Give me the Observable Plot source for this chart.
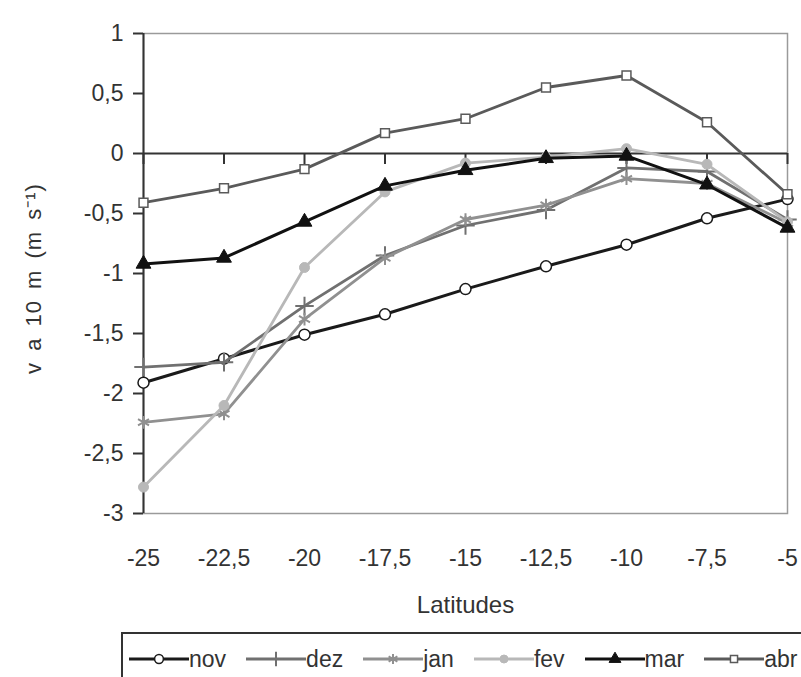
<!DOCTYPE html>
<html><head><meta charset="utf-8">
<script src="https://cdn.jsdelivr.net/npm/d3@7"></script>
<script src="https://cdn.jsdelivr.net/npm/@observablehq/plot@0.6"></script>
<style>
html,body{margin:0;padding:0;background:#fff;overflow:hidden;}
#chart svg{display:block;}
#legend{margin-left:121px;margin-top:1px;height:50px;border-top:2px solid #333;border-left:2px solid #333;border-bottom:2px solid #333;display:flex;align-items:center;padding-left:6px;gap:20px;font-family:"Liberation Sans",Arial,sans-serif;font-size:23px;color:#333;white-space:nowrap;}
.item{display:flex;align-items:center;}
.item svg{display:block;}
</style></head><body>
<div id="chart"></div><div id="legend"></div>
<script>
// ---- data ----
const latitudes = [-25, -22.5, -20, -17.5, -15, -12.5, -10, -7.5, -5];
const xTickLabels = ["-25", "-22,5", "-20", "-17,5", "-15", "-12,5", "-10", "-7,5", "-5"];
const yTicks = [-3, -2.5, -2, -1.5, -1, -0.5, 0, 0.5, 1];
const yTickLabels = ["-3", "-2,5", "-2", "-1,5", "-1", "-0,5", "0", "0,5", "1"];
const seriesNames = ["nov", "dez", "jan", "fev", "mar", "abr"];
const nov = [-1.91, -1.71, -1.51, -1.34, -1.13, -0.94, -0.76, -0.54, -0.38];
const dez = [-1.78, -1.74, -1.27, -0.85, -0.60, -0.47, -0.12, -0.15, -0.55];
const jan = [-2.24, -2.17, -1.38, -0.87, -0.55, -0.43, -0.21, -0.25, -0.58];
const fev = [-2.78, -2.10, -0.95, -0.32, -0.08, -0.03, 0.04, -0.09, -0.57];
const mar = [-0.92, -0.87, -0.57, -0.27, -0.14, -0.04, -0.02, -0.26, -0.62];
const abr = [-0.41, -0.29, -0.13, 0.17, 0.29, 0.55, 0.65, 0.26, -0.34];
const xLabel = "Latitudes";
const yLabel = "v a 10 m (m s\u207B\u00B9)";

// ---- styles ----
const seriesValues = {nov, dez, jan, fev, mar, abr};
const styles = {
  nov: {color: "#1a1a1a", symbol: "circle",   fill: "white",   width: 3,   r: 5.5, sw: 1.5},
  dez: {color: "#707070", symbol: "plus",     fill: "none",    width: 2.8, r: 6,   sw: 2},
  jan: {color: "#909090", symbol: "asterisk", fill: "none",    width: 2.8, r: 6,   sw: 2},
  fev: {color: "#b8b8b8", symbol: "circle",   fill: "#b8b8b8", width: 2.8, r: 5,   sw: 1},
  mar: {color: "#111111", symbol: "triangle", fill: "#111111", width: 3,   r: 5.5, sw: 1},
  abr: {color: "#5a5a5a", symbol: "square",   fill: "white",   width: 2.8, r: 5,   sw: 1.5}
};

const rows = seriesNames.flatMap(s => latitudes.map((lat, i) => ({serie: s, lat, v: seriesValues[s][i]})));

const fmtX = d => xTickLabels[latitudes.indexOf(d)];
const fmtY = d => yTickLabels[yTicks.indexOf(d)];

const marks = [
  Plot.frame({stroke: "#9a9a9a", strokeWidth: 1.5}),
  Plot.ruleY([0], {stroke: "#333", strokeWidth: 2}),
  Plot.ruleX(latitudes, {y1: 0, y2: 0, insetBottom: -11, stroke: "#333", strokeWidth: 2}),
  Plot.ruleX([latitudes[0]], {stroke: "#333", strokeWidth: 2}),
  Plot.axisY({ticks: yTicks, tickSize: 10, tickPadding: 10, tickFormat: fmtY, fontSize: 23, label: null, strokeWidth: 2}),
  Plot.axisX({ticks: latitudes, tickSize: 0, tickPadding: 36, tickFormat: fmtX, fontSize: 23, label: null}),
  Plot.text([xLabel], {text: d => d, frameAnchor: "bottom", dy: 92, fontSize: 24, textAnchor: "middle", lineAnchor: "middle"}),
  Plot.text([yLabel], {text: d => d, frameAnchor: "left", dx: -110, dy: 5, rotate: -90, fontSize: 22, textAnchor: "middle", lineAnchor: "middle"})
];
for (const s of seriesNames) {
  const st = styles[s];
  const d = rows.filter(r => r.serie === s);
  marks.push(Plot.line(d, {x: "lat", y: "v", stroke: st.color, strokeWidth: st.width}));
  marks.push(Plot.dot(d, {x: "lat", y: "v", symbol: st.symbol, r: st.r, fill: st.fill, stroke: st.color, strokeWidth: st.sw}));
}

const chart = Plot.plot({
  width: 801,
  height: 631,
  marginLeft: 143,
  marginRight: 14,
  marginTop: 33,
  marginBottom: 118,
  x: {domain: [-25, -5]},
  y: {domain: [-3, 1]},
  style: {fontFamily: "'Liberation Sans', Arial, sans-serif", fontSize: "23px", color: "#333", background: "white"},
  marks
});
document.getElementById("chart").appendChild(chart);
d3.select(chart).selectAll("text")
  .filter(function() { return this.textContent === yLabel; })
  .style("letter-spacing", "1px").style("word-spacing", "4px");

// ---- legend ----
const symMap = {circle: d3.symbolCircle, plus: d3.symbolPlus, asterisk: d3.symbolAsterisk, triangle: d3.symbolTriangle, square: d3.symbolSquare};
const legend = d3.select("#legend");
for (const s of seriesNames) {
  const st = styles[s];
  const item = legend.append("div").attr("class", "item");
  const svg = item.append("svg").attr("width", 60).attr("height", 24);
  svg.append("line").attr("x1", 0).attr("x2", 60).attr("y1", 12).attr("y2", 12)
    .attr("stroke", st.color).attr("stroke-width", st.width);
  const rr = st.r * 0.8;
  svg.append("path").attr("transform", "translate(30,12)")
    .attr("d", d3.symbol(symMap[st.symbol], Math.PI * rr * rr)())
    .attr("fill", st.fill).attr("stroke", st.color).attr("stroke-width", st.sw);
  item.append("span").text(s);
}
</script>
</body></html>
